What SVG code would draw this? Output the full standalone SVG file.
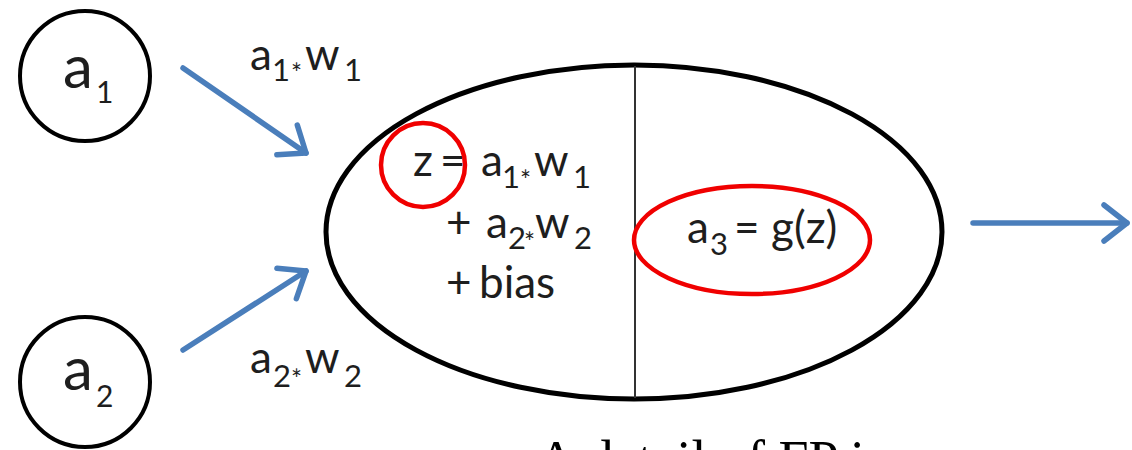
<svg xmlns="http://www.w3.org/2000/svg" width="1132" height="450" viewBox="0 0 1132 450">
  <defs>
    <marker id="chev" markerUnits="userSpaceOnUse" viewBox="-30 -22 34 44" markerWidth="34" markerHeight="44" refX="0" refY="0" orient="auto">
      <path d="M-23,-18 L0,0 L-23,18" fill="none" stroke="#4A7EBB" stroke-width="5.5" stroke-linecap="round" stroke-linejoin="round"/>
    </marker>
    <style>
      .t { font-family: Lato, "Open Sans", "Liberation Sans", sans-serif; fill: #1e1e1e; }
      .m { font-size: 44px; }
      .s { font-size: 31px; }
      .ast { font-size: 26px; }
      .big { font-size: 60px; }
      .bs { font-size: 30px; }
      .node { fill: none; stroke: #000; }
      .red { fill: none; stroke: #F00000; stroke-width: 4.5; }
      .conn { fill: none; stroke: #4A7EBB; stroke-width: 5.5; stroke-linecap: round; marker-end: url(#chev); }
    </style>
  </defs>
  <rect width="1132" height="450" fill="#fff"/>

  <g id="node-a1">
    <circle class="node" cx="85" cy="76" r="65" stroke-width="4"/>
    <text class="t"><tspan class="big" x="63" y="88">a</tspan><tspan class="bs" x="96" y="103">1</tspan></text>
  </g>

  <g id="node-a2">
    <circle class="node" cx="85" cy="382" r="65" stroke-width="4"/>
    <text class="t"><tspan class="big" x="63" y="390">a</tspan><tspan class="bs" x="96" y="407">2</tspan></text>
  </g>

  <g id="node-neuron">
    <ellipse class="node" cx="634" cy="232" rx="308" ry="167" stroke-width="5"/>
    <line x1="635" y1="66" x2="635" y2="398" stroke="#333" stroke-width="2"/>
    <text class="t"><tspan class="m" x="413" y="176">z</tspan><tspan class="m" x="440" y="176">=</tspan><tspan class="m" x="481" y="176">a</tspan><tspan class="s" x="502" y="188">1</tspan><tspan class="ast" x="520" y="190">*</tspan><tspan class="m" x="534" y="176">w</tspan><tspan class="s" x="573" y="188">1</tspan></text>
    <text class="t"><tspan class="m" x="446" y="238">+</tspan><tspan class="m" x="486" y="238">a</tspan><tspan class="s" x="508" y="249">2</tspan><tspan class="ast" x="524" y="252">*</tspan><tspan class="m" x="535" y="238">w</tspan><tspan class="s" x="574" y="249">2</tspan></text>
    <text class="t"><tspan class="m" x="446" y="298">+</tspan><tspan class="m" x="479" y="298">bias</tspan></text>
    <text class="t"><tspan class="m" x="687" y="243">a</tspan><tspan class="s" x="710" y="255">3</tspan><tspan class="m" x="734" y="243">=</tspan><tspan class="m" x="771" y="243">g(z)</tspan></text>
  </g>

  <g id="highlight-z">
    <circle class="red" cx="423" cy="165" r="42"/>
  </g>
  <g id="highlight-a3">
    <ellipse class="red" cx="752" cy="240" rx="118" ry="54"/>
  </g>

  <g id="connectors">
    <path class="conn" d="M183,68 L306,153"/>
    <path class="conn" d="M183,350 L306,271"/>
    <path class="conn" d="M973,223 L1127,223"/>
  </g>

  <g id="labels">
    <text class="t"><tspan class="m" x="250" y="70">a</tspan><tspan class="s" x="272" y="81">1</tspan><tspan class="ast" x="291" y="83">*</tspan><tspan class="m" x="305" y="70">w</tspan><tspan class="s" x="344" y="81">1</tspan></text>
    <text class="t"><tspan class="m" x="250" y="373">a</tspan><tspan class="s" x="273" y="387">2</tspan><tspan class="ast" x="291" y="389">*</tspan><tspan class="m" x="305" y="373">w</tspan><tspan class="s" x="344" y="387">2</tspan></text>
  </g>

  <text x="537" y="478" font-family="'Liberation Serif', 'Times New Roman', serif" font-size="54" fill="#000">A detail of FP is</text>
</svg>
